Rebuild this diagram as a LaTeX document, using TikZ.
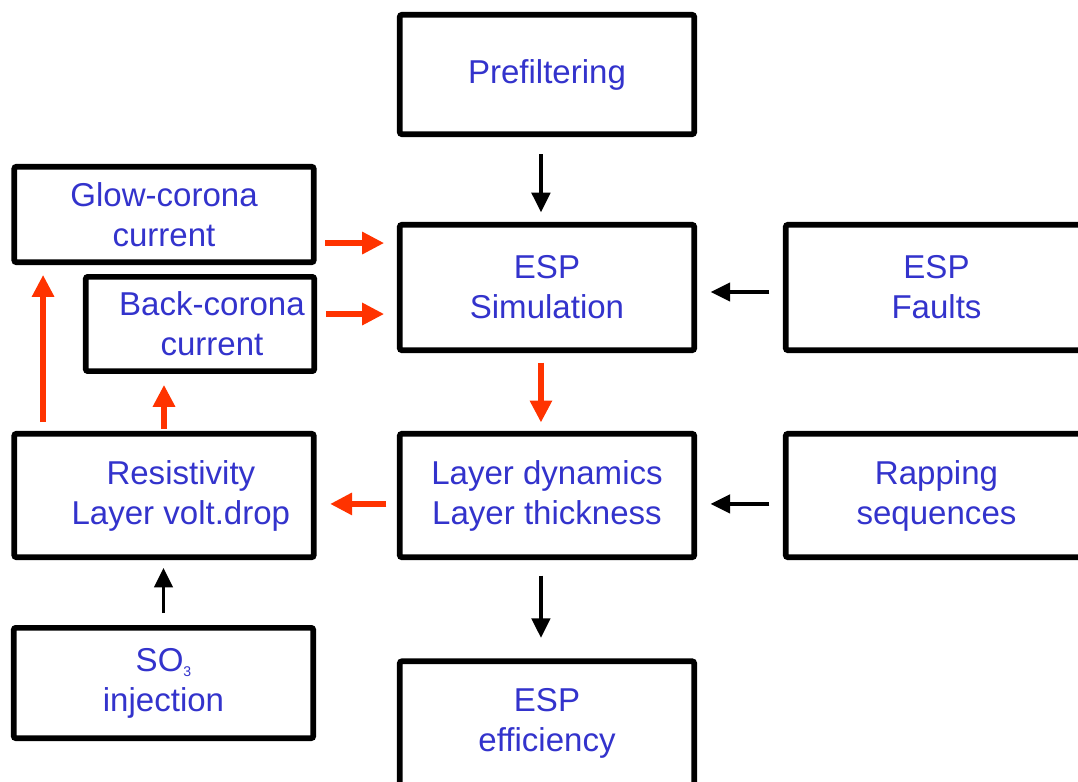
\documentclass[tikz,border=0pt]{standalone}
\usepackage{fontspec}
\setsansfont{Liberation Sans}
\usetikzlibrary{arrows.meta}
\definecolor{espink}{HTML}{000000}
\definecolor{espblue}{HTML}{3333CC}
\definecolor{espred}{HTML}{FF3300}

\begin{document}
\begin{tikzpicture}[x=0.025cm, y=-0.025cm, font=\sffamily\fontsize{23.5}{28.5}\selectfont, text=espblue,
    block/.style={draw=espink, line width=4pt, rounded corners=1.5pt, fill=white, align=center, inner sep=0pt},
    link/.style={draw=espink, line width=2.8pt, -{Triangle[length=14pt, width=13pt]}},
    feedback/.style={draw=espred, line width=4.3pt, -{Triangle[length=15.6pt, width=15pt]}},
  ]
  % page frame, the right and bottom boxes run past it
  \useasboundingbox (0,0) rectangle (1078,782);

  % centre column
  \node[block, minimum width=209.4pt, minimum height=84.9pt] (pre) at (547,74.5) {\raisebox{-3pt}{Prefiltering}};
  \node[block, minimum width=209.4pt, minimum height=89.2pt] (sim) at (547,287.5) {ESP\\Simulation};
  \node[block, minimum width=209.4pt, minimum height=87.8pt] (layer) at (547,495.5) {Layer dynamics\\Layer thickness};
  \node[block, minimum width=209.4pt, minimum height=88.5pt] (eff) at (547,723.5) {ESP\\efficiency};

  % right column
  \node[block, minimum width=214.4pt, minimum height=89.2pt] (faults) at (936.5,287.5) {ESP\\Faults};
  \node[block, minimum width=214.4pt, minimum height=87.8pt] (rapping) at (936.5,495.5) {Rapping\\sequences};

  % left column
  \node[block, minimum width=213pt, minimum height=67.9pt] (glow) at (164,214.5) {Glow-corona\\current};
  \node[block, minimum width=162.5pt, minimum height=67.1pt] (back) at (200,324)
    {\hspace*{17pt}Back-corona\\\hspace*{17pt}current};
  \node[block, minimum width=213pt, minimum height=87.8pt] (resist) at (164,495.5)
    {\hspace*{24pt}Resistivity\\\hspace*{24pt}Layer volt.drop};
  \node[block, minimum width=213pt, minimum height=78.5pt] (so3) at (163.5,683)
    {SO\raisebox{-4pt}{\fontsize{10}{10}\selectfont 3}\\injection};

  % black connectors
  \draw[link, shorten <=12.4pt, shorten >=6.8pt] ([xshift=-4.3pt]pre.south) -- ([xshift=-4.3pt]sim.north);
  \draw[link, shorten <=11pt, shorten >=14.6pt] ([xshift=-4.3pt]layer.south) -- ([xshift=-4.3pt]eff.north);
  \draw[link, shorten <=9.6pt, shorten >=9.6pt] ([yshift=-3.2pt]faults.west) -- ([yshift=-3.2pt]sim.east);
  \draw[link, shorten <=9.6pt, shorten >=9.6pt] ([yshift=-6pt]rapping.west) -- ([yshift=-6pt]layer.east);
  \draw[link, shorten <=8.4pt, shorten >=5.5pt] (so3.north) -- (so3.north |- resist.south);

  % red connectors
  \coordinate (g) at ([yshift=-20.3pt]glow.east);
  \coordinate (b) at ([yshift=7.1pt]back.east);
  \coordinate (r) at ([xshift=-86pt]resist.north);
  \draw[feedback, shorten <=6.3pt, shorten >=9.1pt] (g) -- (g -| sim.west);
  \draw[feedback, shorten <=6.3pt, shorten >=9.1pt] (b) -- (b -| sim.west);
  \draw[feedback, shorten <=6.8pt, shorten >=6pt] ([xshift=-4.3pt]sim.south) -- ([xshift=-4.3pt]layer.north);
  \draw[feedback, shorten <=7.5pt, shorten >=9.6pt] ([yshift=-6pt]layer.west) -- ([yshift=-6pt]resist.east);
  \draw[feedback, shorten <=6.3pt, shorten >=7pt] (r) -- (r |- glow.south);
  \draw[feedback, shorten <=1.3pt, shorten >=7.7pt] (resist.north) -- (resist.north |- back.south);
\end{tikzpicture}
\end{document}
